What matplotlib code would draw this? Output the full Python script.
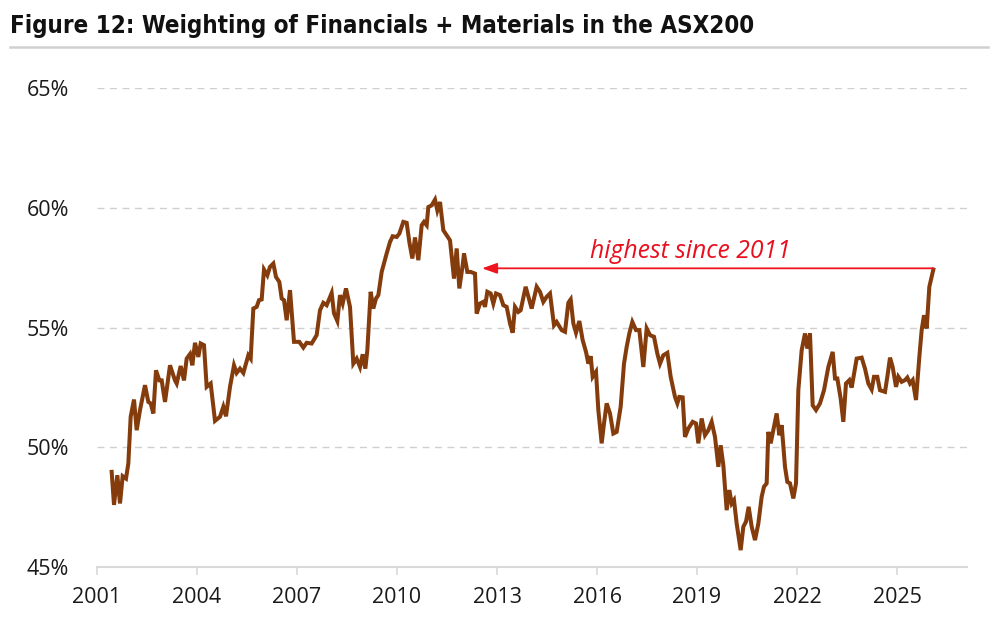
import matplotlib.pyplot as plt
from matplotlib.lines import Line2D

plt.rcParams['font.family'] = ['Open Sans', 'DejaVu Sans']

# data (decimal years)
years = [2001.44, 2001.51, 2001.61, 2001.69, 2001.77, 2001.87, 2001.94, 2002.01, 2002.11, 2002.19,
         2002.29, 2002.44, 2002.54, 2002.61, 2002.69, 2002.77, 2002.87, 2002.94, 2003.04, 2003.19,
         2003.34, 2003.39, 2003.51, 2003.61, 2003.69, 2003.79, 2003.86, 2003.94, 2004.04, 2004.11,
         2004.21, 2004.29, 2004.41, 2004.54, 2004.69, 2004.79, 2004.87, 2004.99, 2005.11, 2005.19,
         2005.29, 2005.39, 2005.54, 2005.61, 2005.69, 2005.79, 2005.86, 2005.94, 2006.01, 2006.11,
         2006.19, 2006.29, 2006.37, 2006.47, 2006.54, 2006.61, 2006.69, 2006.79, 2006.91, 2007.07,
         2007.19, 2007.29, 2007.44, 2007.59, 2007.69, 2007.79, 2007.89, 2008.04, 2008.11, 2008.21,
         2008.29, 2008.37, 2008.47, 2008.59, 2008.69, 2008.79, 2008.89, 2008.97, 2009.05, 2009.11,
         2009.21, 2009.29, 2009.37, 2009.44, 2009.54, 2009.69, 2009.79, 2009.87, 2009.99, 2010.07,
         2010.19, 2010.29, 2010.37, 2010.46, 2010.54, 2010.64, 2010.74, 2010.81, 2010.89, 2010.94,
         2011.04, 2011.14, 2011.21, 2011.29, 2011.39, 2011.49, 2011.59, 2011.71, 2011.79, 2011.87,
         2011.97, 2012.01, 2012.11, 2012.21, 2012.34, 2012.39, 2012.49, 2012.59, 2012.64, 2012.71,
         2012.81, 2012.89, 2012.97, 2013.09, 2013.19, 2013.29, 2013.39, 2013.47, 2013.54, 2013.64,
         2013.71, 2013.86, 2013.97, 2014.04, 2014.19, 2014.29, 2014.39, 2014.49, 2014.59, 2014.71,
         2014.79, 2014.94, 2015.04, 2015.14, 2015.21, 2015.29, 2015.37, 2015.47, 2015.57, 2015.67,
         2015.74, 2015.81, 2015.87, 2015.97, 2016.04, 2016.14, 2016.21, 2016.29, 2016.39, 2016.49,
         2016.59, 2016.71, 2016.81, 2016.89, 2016.97, 2017.06, 2017.17, 2017.27, 2017.39, 2017.49,
         2017.59, 2017.71, 2017.81, 2017.89, 2017.99, 2018.11, 2018.21, 2018.34, 2018.41, 2018.47,
         2018.57, 2018.64, 2018.74, 2018.87, 2018.97, 2019.04, 2019.14, 2019.24, 2019.34, 2019.44,
         2019.54, 2019.64, 2019.71, 2019.79, 2019.89, 2019.97, 2020.04, 2020.11, 2020.19, 2020.31,
         2020.39, 2020.47, 2020.55, 2020.64, 2020.74, 2020.84, 2020.94, 2021.01, 2021.09, 2021.14,
         2021.21, 2021.29, 2021.39, 2021.47, 2021.54, 2021.64, 2021.71, 2021.79, 2021.89, 2021.97,
         2022.04, 2022.14, 2022.24, 2022.31, 2022.39, 2022.47, 2022.57, 2022.69, 2022.81, 2022.94,
         2023.07, 2023.14, 2023.21, 2023.31, 2023.39, 2023.47, 2023.57, 2023.64, 2023.79, 2023.94,
         2024.04, 2024.14, 2024.24, 2024.31, 2024.41, 2024.49, 2024.64, 2024.71, 2024.79, 2024.87,
         2024.97, 2025.04, 2025.14, 2025.24, 2025.31, 2025.39, 2025.47, 2025.57, 2025.67, 2025.74,
         2025.81, 2025.89, 2025.97, 2026.09]

weight = [48.98, 47.60, 48.84, 47.66, 48.80, 48.70, 49.33, 51.28, 52.00, 50.72,
          51.56, 52.60, 51.90, 51.84, 51.42, 53.22, 52.80, 52.80, 51.90, 53.43,
          52.80, 52.67, 53.40, 52.80, 53.71, 53.90, 53.43, 54.37, 53.78, 54.34,
          54.27, 52.53, 52.67, 51.11, 51.28, 51.70, 51.30, 52.53, 53.43, 53.11,
          53.29, 53.11, 53.85, 53.71, 55.80, 55.87, 56.15, 56.18, 57.43, 57.19,
          57.54, 57.68, 57.12, 56.91, 56.22, 56.15, 55.31, 56.57, 54.41, 54.41,
          54.17, 54.37, 54.34, 54.69, 55.73, 56.04, 55.94, 56.45, 55.60, 55.28,
          56.36, 56.01, 56.64, 55.87, 53.50, 53.71, 53.36, 53.89, 53.29, 54.06,
          56.50, 55.80, 56.22, 56.36, 57.33, 58.10, 58.58, 58.82, 58.79, 58.93,
          59.42, 59.38, 58.58, 57.89, 58.77, 57.82, 59.28, 59.42, 59.28, 60.04,
          60.11, 60.35, 59.90, 60.25, 59.07, 58.86, 58.65, 57.05, 58.31, 56.64,
          57.61, 58.10, 57.33, 57.33, 57.26, 55.59, 56.01, 56.08, 55.87, 56.50,
          56.43, 56.01, 56.43, 56.36, 55.94, 55.87, 55.18, 54.79, 55.87, 55.66,
          55.73, 56.71, 56.15, 55.80, 56.71, 56.50, 56.08, 56.29, 56.43, 55.10,
          55.24, 54.90, 54.83, 56.04, 56.18, 55.18, 54.79, 55.28, 54.48, 53.99,
          53.50, 53.81, 52.95, 53.16, 51.56, 50.17, 51.00, 51.84, 51.42, 50.58,
          50.65, 51.70, 53.50, 54.20, 54.76, 55.24, 54.90, 54.90, 53.36, 54.97,
          54.69, 54.62, 53.92, 53.50, 53.85, 53.95, 52.95, 52.11, 51.84, 52.11,
          52.09, 50.44, 50.79, 51.07, 51.00, 50.17, 51.21, 50.51, 50.72, 51.07,
          50.44, 49.19, 50.09, 49.26, 47.38, 48.22, 47.66, 47.80, 46.82, 45.71,
          46.69, 46.90, 47.52, 46.69, 46.13, 46.82, 47.94, 48.36, 48.50, 50.65,
          50.17, 50.72, 51.42, 50.51, 50.93, 49.19, 48.56, 48.50, 47.87, 48.50,
          52.39, 54.06, 54.76, 54.13, 54.76, 51.76, 51.56, 51.84, 52.39, 53.36,
          53.99, 52.88, 52.88, 52.04, 51.07, 52.67, 52.81, 52.50, 53.71, 53.75,
          53.29, 52.67, 52.42, 52.95, 52.95, 52.39, 52.32, 52.95, 53.75, 53.36,
          52.53, 52.95, 52.74, 52.81, 52.92, 52.67, 52.81, 51.98, 53.78, 54.90,
          55.52, 54.97, 56.71, 57.43]

yticks = [45, 50, 55, 60, 65]
xticks = [2001, 2004, 2007, 2010, 2013, 2016, 2019, 2022, 2025]

arrow_from = 2026.09
arrow_to = 2012.55
arrow_level = 57.48

fig = plt.figure(figsize=(10, 6.26), dpi=100)
ax = fig.add_axes([0.097, 0.094, 0.87, 0.765])

ax.plot(years, weight, color='#843C0C', linewidth=2.9, solid_joinstyle='miter', zorder=3)

ax.set_xlim(2001, 2027.1)
ax.set_ylim(45, 65)
ax.set_yticks(yticks)
ax.set_yticklabels([f'{v}%' for v in yticks])
ax.set_xticks(xticks)

for s in ['top', 'right', 'left']:
    ax.spines[s].set_visible(False)
ax.spines['bottom'].set_color('#D9D9D9')
ax.spines['bottom'].set_linewidth(1.5)

ax.tick_params(axis='y', length=0, pad=20, labelsize=15.5, labelcolor='#1a1a1a')
ax.tick_params(axis='x', length=6, width=1.2, color='#D9D9D9', pad=8, labelsize=15.5, labelcolor='#1a1a1a')

for v in yticks[1:]:
    ax.axhline(v, color='#D0D0D0', linewidth=1, linestyle=(0, (5, 4)), zorder=1)

# annotation
ax.annotate('', xy=(arrow_to, arrow_level), xytext=(arrow_from, arrow_level),
            arrowprops=dict(arrowstyle='-|>,head_length=0.9,head_width=0.32', color='#F0141E', lw=1.3,
                            shrinkA=0, shrinkB=0), zorder=4)
ax.text(2018.79, arrow_level + 0.42, 'highest since 2011', color='#E8101E', fontsize=17.8,
        style='italic', ha='center', va='baseline')

fig.text(0.01, 0.958, 'Figure 12: Weighting of Financials + Materials in the ASX200',
         fontsize=17.3, fontweight='bold', family='DejaVu Sans', fontstretch='condensed',
         ha='left', va='center', color='#111111')
fig.add_artist(Line2D([0.01, 0.988], [0.925, 0.925], color='#D0D0D0', linewidth=1.8))

plt.savefig('out.png', dpi=100)
